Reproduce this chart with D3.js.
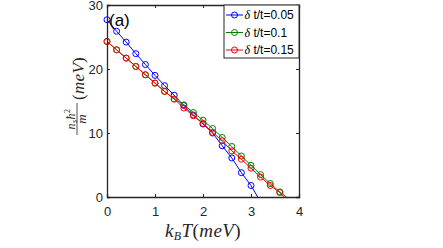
<!DOCTYPE html>
<html>
<head>
<meta charset="utf-8">
<script src="https://cdn.jsdelivr.net/npm/d3@7"></script>
<style>
    body { margin: 0; background: #fff; }
    svg { display: block; }
    .tick text { font-family: "Liberation Sans", Arial, sans-serif; font-size: 13px; fill: #262626; }
</style>
</head>
<body>
<div id="chart"></div>
<script>
// temperatures sampled every 0.2 meV
const temps = [0, 0.2, 0.4, 0.6, 0.8, 1.0, 1.2, 1.4, 1.6, 1.8, 2.0, 2.2, 2.4, 2.6, 2.8, 3.0, 3.2, 3.4, 3.6];

const blueVals = [27.7, 25.9, 24.2, 22.4, 20.7, 19.0, 17.4, 15.9, 14.3, 12.8, 11.4, 10.0, 8.0, 6.1, 3.8, 1.8];
const greenVals = [24.3, 23.0, 21.7, 20.4, 19.1, 17.8, 16.5, 15.3, 14.4, 13.2, 12.0, 10.7, 9.3, 7.9, 6.4, 4.95, 3.5, 2.1, 0.8];
const redVals = [24.3, 23.0, 21.7, 20.4, 19.1, 17.8, 16.5, 15.3, 13.9, 12.7, 11.5, 10.1, 8.8, 7.2, 5.9, 4.5, 3.1, 1.8, 0.7];

// where each curve hits zero (line end, no marker)
const zeroT = [3.14, 3.74, 3.69];

const seriesNames = ["0.05", "0.1", "0.15"];
const seriesColors = ["#0000ff", "#008000", "#ff0000"];

const xTicks = [0, 1, 2, 3, 4];
const yTicks = [0, 10, 20, 30];

const W = 443, H = 248;
const margin = {top: 5, right: 144, bottom: 51, left: 107};
const width = W - margin.left - margin.right;
const height = H - margin.top - margin.bottom;

const svgRoot = d3.select("#chart").append("svg")
    .attr("width", W)
    .attr("height", H);

const svg = svgRoot.append("g")
    .attr("transform", "translate(" + margin.left + "," + margin.top + ")");

const xSc = d3.scaleLinear().domain([0, 4]).range([0, width]);
const ySc = d3.scaleLinear().domain([0, 30]).range([height, 0]);

const axisColor = "#262626";

const all = [blueVals, greenVals, redVals];
const line = d3.line().x(d => xSc(d[0])).y(d => ySc(d[1]));

const plot = svg.append("g");

all.forEach((vals, i) => {
    let pts = vals.map((v, j) => [temps[j], v]);
    let full = pts.concat([[zeroT[i], 0]]);
    plot.append("path")
        .datum(full)
        .attr("fill", "none")
        .attr("stroke", seriesColors[i])
        .attr("stroke-width", 1)
        .attr("d", line);
    plot.selectAll(".m" + i)
        .data(pts)
        .enter().append("circle")
        .attr("class", "m" + i)
        .attr("cx", d => xSc(d[0]))
        .attr("cy", d => ySc(d[1]))
        .attr("r", 3)
        .attr("fill", "none")
        .attr("stroke", seriesColors[i])
        .attr("stroke-width", 1);
});

// axes: bottom/left with labels, top/right bare, ticks inward
svg.append("g")
    .attr("transform", "translate(0," + height + ")")
    .call(d3.axisBottom(xSc).tickValues(xTicks).tickSize(-3).tickPadding(10).tickFormat(d3.format("d")));
svg.append("g")
    .call(d3.axisLeft(ySc).tickValues(yTicks).tickSize(-3).tickPadding(4).tickFormat(d3.format("d")))
    .selectAll(".tick text").attr("dy", "0.36em");
svg.append("g")
    .call(d3.axisTop(xSc).tickValues(xTicks).tickSize(-3).tickFormat(""));
svg.append("g")
    .attr("transform", "translate(" + width + ",0)")
    .call(d3.axisRight(ySc).tickValues(yTicks).tickSize(-3).tickFormat(""));

svg.selectAll(".domain").attr("stroke", axisColor).attr("stroke-width", 1.3);
svg.selectAll(".tick line").attr("stroke", axisColor);

// panel tag
svg.append("text")
    .attr("x", 2)
    .attr("y", 21)
    .style("font-family", "Liberation Sans, Arial, sans-serif")
    .style("font-size", "17px")
    .attr("fill", "#000")
    .text("(a)");

// legend
const legend = svg.append("g").attr("transform", "translate(" + (width - 75) + ",0)");
legend.append("rect")
    .attr("width", 75)
    .attr("height", 53)
    .attr("fill", "#fff")
    .attr("stroke", axisColor)
    .attr("stroke-width", 1);
seriesNames.forEach((name, i) => {
    let ly = 10 + i * 17.5;
    legend.append("line")
        .attr("x1", 2).attr("x2", 19)
        .attr("y1", ly).attr("y2", ly)
        .attr("stroke", seriesColors[i]);
    legend.append("circle")
        .attr("cx", 10.5).attr("cy", ly).attr("r", 3)
        .attr("fill", "none")
        .attr("stroke", seriesColors[i]);
    let t = legend.append("text")
        .attr("x", 20.5)
        .attr("y", ly + 4)
        .style("font-family", "Liberation Sans, Arial, sans-serif")
        .style("font-size", "12px")
        .attr("fill", "#000");
    t.append("tspan")
        .style("font-family", "Liberation Serif, serif")
        .style("font-style", "italic")
        .text("δ");
    t.append("tspan").text(" t/t=" + name);
});

// x label
const xl = svg.append("text")
    .attr("x", width / 2)
    .attr("y", height + 40)
    .attr("text-anchor", "middle")
    .style("font-family", "Liberation Serif, serif")
    .style("font-size", "19px")
    .style("letter-spacing", "0.4px")
    .attr("fill", "#262626");
xl.append("tspan").style("font-style", "italic").text("k");
xl.append("tspan").style("font-style", "italic").style("font-size", "12px").attr("dy", 3).text("B");
xl.append("tspan").style("font-style", "italic").attr("dy", -3).text("T");
xl.append("tspan").text("(");
xl.append("tspan").style("font-style", "italic").text("meV");
xl.append("tspan").text(")");

// y label: fraction n_s hbar^2 / m (meV), rotated
const yl = svgRoot.append("g")
    .attr("transform", "translate(77,100) rotate(-90)")
    .style("font-family", "Liberation Serif, serif")
    .attr("fill", "#262626");
const frac = yl.append("g").attr("transform", "translate(-19,0)");
const num = frac.append("text")
    .attr("x", 0).attr("y", -2.5)
    .attr("text-anchor", "middle")
    .style("font-size", "12px")
    .style("letter-spacing", "0.5px")
    .style("font-style", "italic");
num.append("tspan").text("n");
num.append("tspan").style("font-size", "8px").attr("dy", 2).text("s");
num.append("tspan").attr("dy", -2).text("ħ");
num.append("tspan").style("font-size", "8px").style("font-style", "normal").attr("dy", -5).text("2");
frac.append("line")
    .attr("x1", -16).attr("x2", 16)
    .attr("y1", 0).attr("y2", 0)
    .attr("stroke", "#262626").attr("stroke-width", 0.8);
frac.append("text")
    .attr("x", 0).attr("y", 9)
    .attr("text-anchor", "middle")
    .style("font-size", "13px")
    .style("font-style", "italic")
    .text("m");
const unit = yl.append("text")
    .attr("x", 0).attr("y", 7)
    .style("font-size", "17px")
    .style("letter-spacing", "0.3px");
unit.append("tspan").text("(");
unit.append("tspan").style("font-style", "italic").text("meV");
unit.append("tspan").text(")");
</script>
</body>
</html>
